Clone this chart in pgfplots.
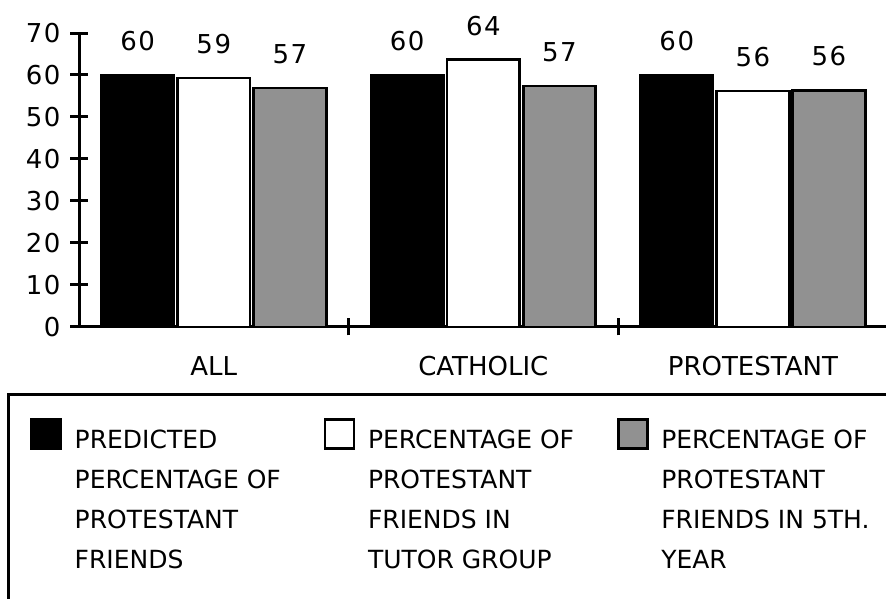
\documentclass[border=0pt]{standalone}
\usepackage{fontspec}
\setmainfont{DejaVu Sans}
\newfontfamily\numfont[LetterSpace=6]{DejaVu Sans}
\usepackage{pgfplots}
\pgfplotsset{compat=1.18}
\definecolor{midgray}{RGB}{145,145,145}
\newcommand{\lbl}{\fontsize{12.5}{20}\selectfont}
\newcommand{\catfont}{\fontsize{13}{16}\selectfont}
\newcommand{\numsize}{\fontsize{13}{16}\selectfont\numfont}

\pgfplotsset{
  sq/.style={legend image code/.code={
      \draw[##1, line width=1.3pt] (0pt,0pt) rectangle (14.5pt,14.5pt);
      \path[draw=none, fill=none] (0pt,0pt) (21.5pt,0pt);}},
}

\begin{document}
\begin{tikzpicture}
\useasboundingbox (0,0) rectangle (443pt,299pt);
\begin{axis}[
  at={(39.5pt,135.5pt)}, anchor=south west,
  scale only axis, width=403.5pt, height=147pt,
  xmin=-0.5, xmax=2.494, ymin=0, ymax=70,
  ybar=1.75pt, bar width=36.3pt,
  axis x line*=bottom, axis y line*=left,
  axis line style={-, line width=1.5pt},
  xtick={0.5,1.5}, xticklabels={},
  ytick={0,10,...,70},
  tick align=center, major tick length=8.5pt,
  tick style={line width=1.5pt, black},
  yticklabel style={xshift=-1.5pt},
  tick label style={font=\numsize},
  /pgf/number format/assume math mode=true,
  nodes near coords={\pgfmathprintnumber[fixed,precision=0]{\pgfplotspointmeta}},
  every node near coord/.append style={font=\numsize, yshift=8pt, black},
  clip=false,
  legend columns=3,
  legend style={at={(axis description cs:0,0)}, anchor=north west,
    xshift=-24.5pt, yshift=-45.5pt, draw=none, fill=none,
    inner sep=0pt, column sep=0pt, row sep=0pt,
    nodes={inner sep=0pt, font=\lbl, anchor=base west},
    cells={anchor=base west}},
]
\addplot[sq, fill=black, draw=black, line width=1.4pt]
  coordinates {(0,60) (1,60) (2,60)};
\addlegendentry{\parbox[t]{124.5pt}{\raggedright PREDICTED\\PERCENTAGE OF\\PROTESTANT\\FRIENDS}}
\addplot[sq, fill=white, draw=black, line width=1.4pt]
  coordinates {(0,59.3) (1,63.7) (2,56.2)};
\addlegendentry{\parbox[t]{124.5pt}{\raggedright PERCENTAGE OF\\PROTESTANT\\FRIENDS IN\\TUTOR GROUP}}
\addplot[sq, fill=midgray, draw=black, line width=1.4pt]
  coordinates {(0,56.9) (1,57.4) (2,56.4)};
\addlegendentry{\parbox[t]{124.5pt}{\raggedright PERCENTAGE OF\\PROTESTANT\\FRIENDS IN 5TH.\\YEAR}}

\node[font=\catfont, yshift=-19.5pt] at (axis cs:0,0) {ALL};
\node[font=\catfont, yshift=-19.5pt] at (axis cs:1,0) {CATHOLIC};
\node[font=\catfont, yshift=-19.5pt] at (axis cs:2,0) {PROTESTANT};
\end{axis}
\draw[line width=1.5pt] (4pt,-5pt) -- (4pt,101.5pt) -- (450pt,101.5pt);
\end{tikzpicture}
\end{document}
